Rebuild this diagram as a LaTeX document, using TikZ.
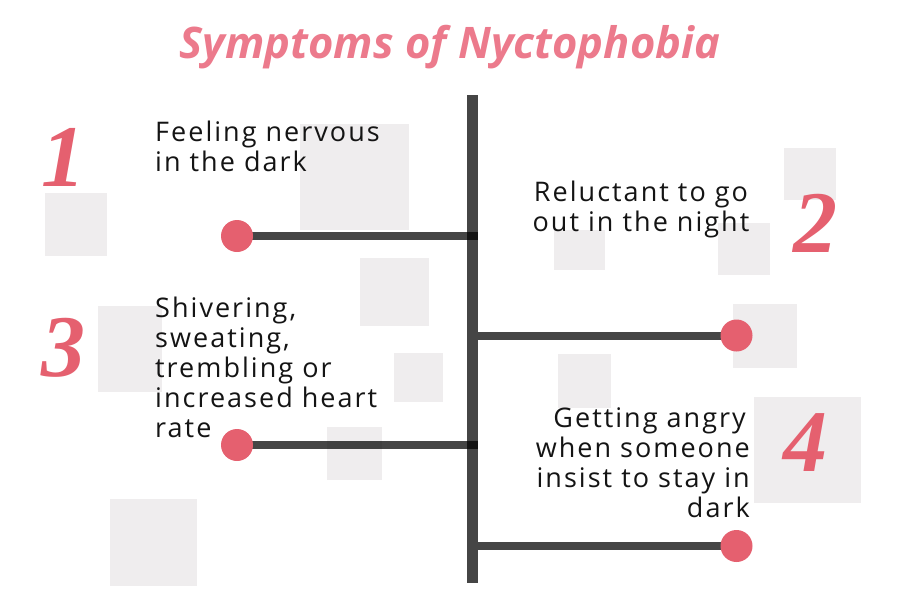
\documentclass[tikz,border=0pt]{standalone}
\usepackage{fontspec}
\setmainfont{Open Sans}
\newfontfamily\bodyfont[LetterSpace=7.5]{Open Sans}
\newfontfamily\numfont{Liberation Serif}
\definecolor{pinkdot}{HTML}{E5606F}
\definecolor{pinktitle}{HTML}{EC7A8C}
\definecolor{sqgray}{HTML}{EFEDEE}
\tikzset{
 sq/.style={fill=sqgray, draw=none},
 bar/.style={line width=11pt, draw=black, draw opacity=0.73},
 branch/.style={line width=8pt, draw=black, draw opacity=0.73},
 dot/.style={circle, fill=pinkdot, minimum size=32pt, inner sep=0pt},
 num/.style={text=pinkdot, font=\numfont\bfseries\itshape\fontsize{88}{88}\selectfont, inner sep=0pt},
 body/.style={font=\bodyfont\fontsize{27}{30}\selectfont, inner sep=0pt, text=black!92},
 titlestyle/.style={font=\bfseries\itshape\fontsize{43.5}{50}\selectfont, text=pinktitle, inner sep=0pt}
}
\begin{document}
\begin{tikzpicture}[x=1pt,y=-1pt]
\useasboundingbox (0,0) rectangle (900,600);
% background squares
\fill[sq] (300,124) rectangle (409,230);
\fill[sq] (45,193) rectangle (107,256);
\fill[sq] (360,258) rectangle (429,326);
\fill[sq] (98,306) rectangle (162,392);
\fill[sq] (394,353) rectangle (443,402);
\fill[sq] (327,427) rectangle (382,480);
\fill[sq] (110,499) rectangle (197,586);
\fill[sq] (784,148) rectangle (836,200);
\fill[sq] (554,230) rectangle (605,270);
\fill[sq] (718,223) rectangle (770,275);
\fill[sq] (733,304) rectangle (797,368);
\fill[sq] (558,354) rectangle (611,408);
\fill[sq] (754,397) rectangle (861,503);
% title
\node[titlestyle, anchor=base] (title) at (450,58) {Symptoms of Nyctophobia};
% bar
\coordinate (top) at (472.5,95);
\coordinate (bot) at (472.5,583);
\draw[bar] (top) -- (bot);
% branch coordinates
\coordinate (c1) at (237,236);
\coordinate (c2) at (736.5,335.5);
\coordinate (c3) at (237,445);
\coordinate (c4) at (736.5,546);
\coordinate (j1) at (478,236);
\coordinate (j2) at (478,335.5);
\coordinate (j3) at (478,445);
\coordinate (j4) at (478,546);
\draw[branch] (c1) -- (j1);
\draw[branch] (j2) -- (c2);
\draw[branch] (c3) -- (j3);
\draw[branch] (j4) -- (c4);
\node[dot] (d1) at (c1) {};
\node[dot] (d2) at (c2) {};
\node[dot] (d3) at (c3) {};
\node[dot] (d4) at (c4) {};
% numbers
\node[num] (n1) at (63,157) {1};
\node[num] (n2) at (815,223) {2};
\node[num] (n3) at (63,348) {3};
\node[num] (n4) at (805,443) {4};
% texts
\node[body, align=left, anchor=north west] (t1) at (155,121) {Feeling nervous\\in the dark};
\node[body, align=center, anchor=north] (t2) at (641,181) {Reluctant to go\\out in the night};
\node[body, align=left, anchor=north west] (t3) at (155,297) {Shivering,\\sweating,\\trembling or\\increased heart\\rate};
\node[body, align=right, anchor=north east] (t4) at (750,407) {Getting angry\hspace*{0.15em}\\when someone\hspace*{0.05em}\\insist to stay in\hspace*{0.05em}\\dark};
\end{tikzpicture}
\end{document}
